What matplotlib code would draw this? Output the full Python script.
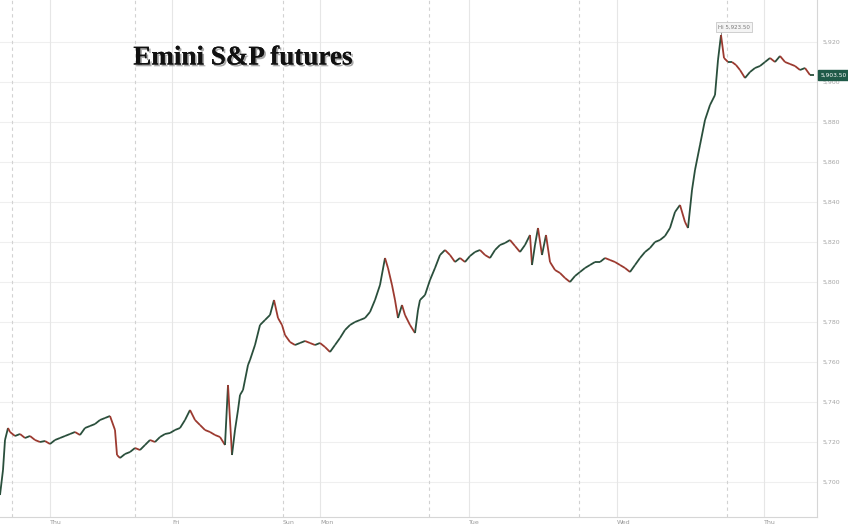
import numpy as np
import matplotlib.pyplot as plt
import matplotlib.patheffects as pe
from matplotlib.collections import LineCollection

# trading-time position of each bar and its price
t = [0, 3, 5, 8, 10, 15, 20, 25, 30, 35, 40, 45, 50, 55, 60, 65, 70, 75, 80, 85,
     90, 95, 100, 105, 110, 115, 117, 120, 125, 130, 135, 140, 145, 150, 155, 160,
     165, 170, 175, 180, 185, 190, 195, 200, 205, 210, 215, 220, 225, 228, 232, 235,
     238, 240, 243, 245, 248, 250, 255, 260, 265, 270, 274, 278, 282, 285, 290, 295,
     300, 305, 310, 315, 320, 325, 330, 335, 340, 345, 350, 355, 360, 365, 370, 375,
     380, 385, 388, 392, 395, 398, 402, 405, 410, 415, 418, 420, 425, 430, 435, 440,
     445, 450, 455, 460, 465, 470, 475, 480, 485, 490, 495, 500, 505, 510, 515, 520,
     525, 530, 532, 535, 538, 542, 546, 550, 555, 560, 565, 570, 575, 580, 585, 590,
     595, 600, 605, 610, 615, 620, 625, 630, 635, 640, 645, 650, 655, 660, 665, 670,
     675, 680, 685, 688, 692, 695, 700, 705, 710, 715, 718, 721, 724, 728, 732, 736,
     740, 745, 750, 755, 760, 765, 770, 775, 780, 785, 790, 795, 800, 805, 810, 814]
price = [5693.5, 5706.0, 5721.0, 5727.0, 5725.0, 5723.0, 5724.0, 5722.0, 5723.0, 5721.0,
         5720.0, 5720.5, 5719.0, 5721.0, 5722.0, 5723.0, 5724.0, 5725.0, 5723.5, 5727.0,
         5728.0, 5729.0, 5731.0, 5732.0, 5733.0, 5726.0, 5713.5, 5712.0, 5714.0, 5715.0,
         5717.0, 5716.0, 5718.5, 5721.0, 5720.0, 5722.5, 5724.0, 5724.5, 5726.0, 5727.0,
         5731.0, 5736.0, 5731.0, 5728.5, 5726.0, 5725.0, 5723.5, 5722.5, 5718.5, 5748.5,
         5713.5, 5726.0, 5736.0, 5743.5, 5746.0, 5751.0, 5758.5, 5761.0, 5768.5, 5778.5,
         5781.0, 5783.5, 5791.0, 5782.0, 5778.5, 5773.5, 5770.0, 5768.5, 5769.5, 5770.5,
         5769.5, 5768.5, 5769.5, 5767.5, 5765.0, 5768.5, 5772.0, 5776.0, 5778.5, 5780.0,
         5781.0, 5782.0, 5785.0, 5791.0, 5798.5, 5812.0, 5807.0, 5798.5, 5791.0, 5782.0,
         5788.5, 5783.5, 5778.5, 5774.5, 5786.0, 5791.0, 5793.5, 5801.0, 5807.0, 5813.5,
         5816.0, 5813.5, 5810.0, 5812.0, 5810.0, 5813.0, 5815.0, 5816.0, 5813.5, 5812.0,
         5816.0, 5818.5, 5819.5, 5821.0, 5818.0, 5815.0, 5818.5, 5823.5, 5808.5, 5818.5,
         5827.0, 5813.5, 5823.5, 5810.0, 5806.0, 5804.5, 5802.0, 5800.0, 5803.0, 5805.0,
         5807.0, 5808.5, 5810.0, 5810.0, 5812.0, 5811.0, 5810.0, 5808.5, 5807.0, 5805.0,
         5808.5, 5812.0, 5815.0, 5817.0, 5820.0, 5821.0, 5823.0, 5827.0, 5835.0, 5838.5,
         5830.0, 5827.0, 5846.0, 5856.0, 5868.5, 5881.0, 5888.5, 5893.5, 5911.0, 5923.5,
         5912.0, 5910.0, 5910.0, 5908.5, 5906.0, 5902.0, 5905.0, 5907.0, 5908.0, 5910.0,
         5912.0, 5910.0, 5913.0, 5910.0, 5909.0, 5908.0, 5906.0, 5907.0, 5903.5, 5903.5]

day_labels = ["Thu", "Fri", "Sun", "Mon", "Tue", "Wed", "Thu"]
day_pos = [50, 172, 283, 320, 469, 617, 764]
session_lines = [50, 172, 320, 469, 617, 764]
midnight_lines = [12, 135, 283, 429, 579, 727]
yticks = list(range(5700, 5921, 20))

hi_price = max(price)
hi_t = t[price.index(hi_price)]
last_price = price[-1]

fig = plt.figure(figsize=(8.48, 5.27), dpi=100)
ax = fig.add_axes([0, 10 / 527, 817 / 848, 517 / 527])
ax.set_xlim(0, 817)
ax.set_ylim(5682.5, 5941)

for y in yticks:
    ax.axhline(y, color='#efefef', lw=0.8, zorder=0)
for x in session_lines:
    ax.axvline(x, color='#e6e6e6', lw=0.8, zorder=0)
for x in midnight_lines:
    ax.axvline(x, color='#d2d2d2', lw=0.8, ls=(0, (3, 3)), zorder=0)

# red/green segments like the candles
pts = np.column_stack([t, price])
segs = np.stack([pts[:-1], pts[1:]], axis=1)
cols = ['#2a4f3c' if b >= a else '#9c3a30' for a, b in zip(price[:-1], price[1:])]
ax.add_collection(LineCollection(segs, colors=cols, linewidths=1.3, zorder=3))

ax.yaxis.tick_right()
ax.set_yticks(yticks)
ax.set_yticklabels([f"{v:,}" for v in yticks], fontsize=4.5, color='#a5a5a5')
ax.set_xticks([])
ax.tick_params(axis='y', length=0, pad=4)
for s in ['top', 'left']:
    ax.spines[s].set_visible(False)
for s in ['right', 'bottom']:
    ax.spines[s].set_color('#d6d6d6')
    ax.spines[s].set_linewidth(0.8)

for lab, x in zip(day_labels, day_pos):
    ax.text(x, -0.006, lab, transform=ax.get_xaxis_transform(), ha='left', va='top',
            fontsize=4.5, color='#9a9a9a', clip_on=False)

# high marker
ax.plot([hi_t, hi_t], [hi_price, 5926], color='#8c8c8c', lw=0.7, zorder=2)
ax.text(hi_t - 3, 5927.5, f"Hi {hi_price:,.2f}", fontsize=4.0, color='#777777',
        ha='left', va='center', zorder=4,
        bbox=dict(boxstyle='square,pad=0.4', fc='#f4f4f4', ec='#c8c8c8', lw=0.6))

# last price tag
ax.text(1.004, last_price, f"{last_price:,.2f}", transform=ax.get_yaxis_transform(),
        fontsize=4.2, color='white', ha='left', va='center', clip_on=False,
        bbox=dict(boxstyle='square,pad=0.35', fc='#1f5a48', ec='#1f5a48'))

fig.text(243 / 848, 1 - 58 / 527, "Emini S&P futures", family='Liberation Serif',
         fontweight='bold', fontsize=19.5, ha='center', va='center', color='#111111',
         path_effects=[pe.withSimplePatchShadow(offset=(1.3, -1.3), shadow_rgbFace='#555555',
                                                alpha=0.5), pe.Normal()])

fig.savefig("out.png", dpi=100, facecolor='white')
